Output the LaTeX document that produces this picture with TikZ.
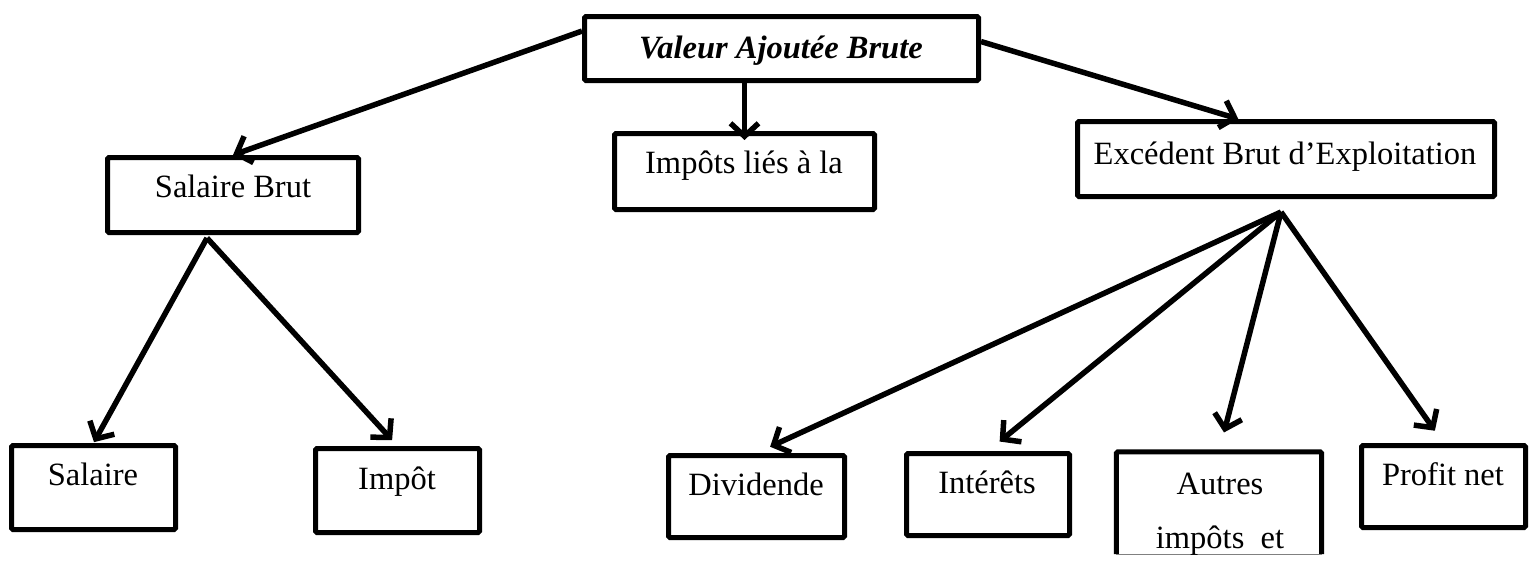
\documentclass[tikz,border=0pt]{standalone}
\usepackage{fontspec}
\setmainfont{Liberation Serif}
\usetikzlibrary{arrows.meta}
\begin{document}
\begin{tikzpicture}[x=1pt,y=-1pt,
  box/.style={draw, line width=5pt, rounded corners=1.5pt, inner sep=0pt},
  lbl/.style={anchor=base, inner sep=0pt, font=\fontsize{32.5}{38}\selectfont},
  arr/.style={line width=5.5pt, -{Straight Barb[length=13pt,width=28pt]}}]
\useasboundingbox (0,0) rectangle (1531,563);
\clip (0,0) rectangle (1531,563);
% boxes
\node[box, minimum width=394pt, minimum height=64pt] (vab) at (781.5,48.5) {};
\node[box, minimum width=260pt, minimum height=76pt] (impl) at (744.5,171.5) {};
\node[box, minimum width=251pt, minimum height=75pt] (sb) at (233,195) {};
\node[box, minimum width=417pt, minimum height=75pt] (ebe) at (1286,159) {};
\node[box, minimum width=164pt, minimum height=84pt] (sal) at (93.5,487.5) {};
\node[box, minimum width=164pt, minimum height=84pt] (impt) at (397.5,490.5) {};
\node[box, minimum width=176pt, minimum height=82pt] (div) at (756.5,496.5) {};
\node[box, minimum width=163pt, minimum height=82pt] (int) at (988,494.5) {};
\node[box, minimum width=164pt, minimum height=82pt] (prof) at (1443.5,486.5) {};
\node[inner sep=0pt, minimum width=205pt, minimum height=102pt] (aut) at (1219,503) {};
\draw[line width=5pt, rounded corners=1.5pt] (aut.south west) -- (aut.north west) -- (aut.north east) -- (aut.south east);
\draw[line width=1pt, gray] (aut.south west) -- (aut.south east);
% texts
\node[lbl, font=\fontsize{32.5}{38}\selectfont\bfseries\itshape] (vabt) at (781,58) {Valeur Ajoutée Brute};
\node[lbl] (implt) at (744,173) {Impôts liés à la};
\node[lbl] (sbt) at (233,197) {Salaire Brut};
\node[lbl] (ebet) at (1285,164) {Excédent Brut d’Exploitation};
\node[lbl] (salt) at (93,485) {Salaire};
\node[lbl] (imptt) at (397,489) {Impôt};
\node[lbl] (divt) at (756,495) {Dividende};
\node[lbl] (intt) at (987,493) {Intérêts};
\node[lbl] (autt) at (1220,494) {Autres};
\node[lbl] (autt2) at (1220,548) {impôts\ \ et};
\node[lbl] (proft) at (1443,485) {Profit net};
% connectors
\coordinate (sbf) at (207,238);
\coordinate (ebef) at (1281,212);
\draw[arr] (vab.175) -- (sb.north);
\draw[arr] (vab.2) -- (ebe.140);
\draw[arr, shorten >=-9pt] (vab.south -| impl.north) -- (impl.north);
\draw[arr, shorten >=1pt] (sbf) -- (sal.north);
\draw[arr, shorten >=8pt] (sbf) -- (impt.north);
\draw[arr, shorten >=15pt] (ebef) -- (div.north);
\draw[arr, shorten >=15pt] (ebef) -- (int.north);
\draw[arr, shorten >=20pt] (ebef) -- (aut.north);
\draw[arr, shorten >=15pt] (ebef) -- (prof.north);
\end{tikzpicture}
\end{document}
